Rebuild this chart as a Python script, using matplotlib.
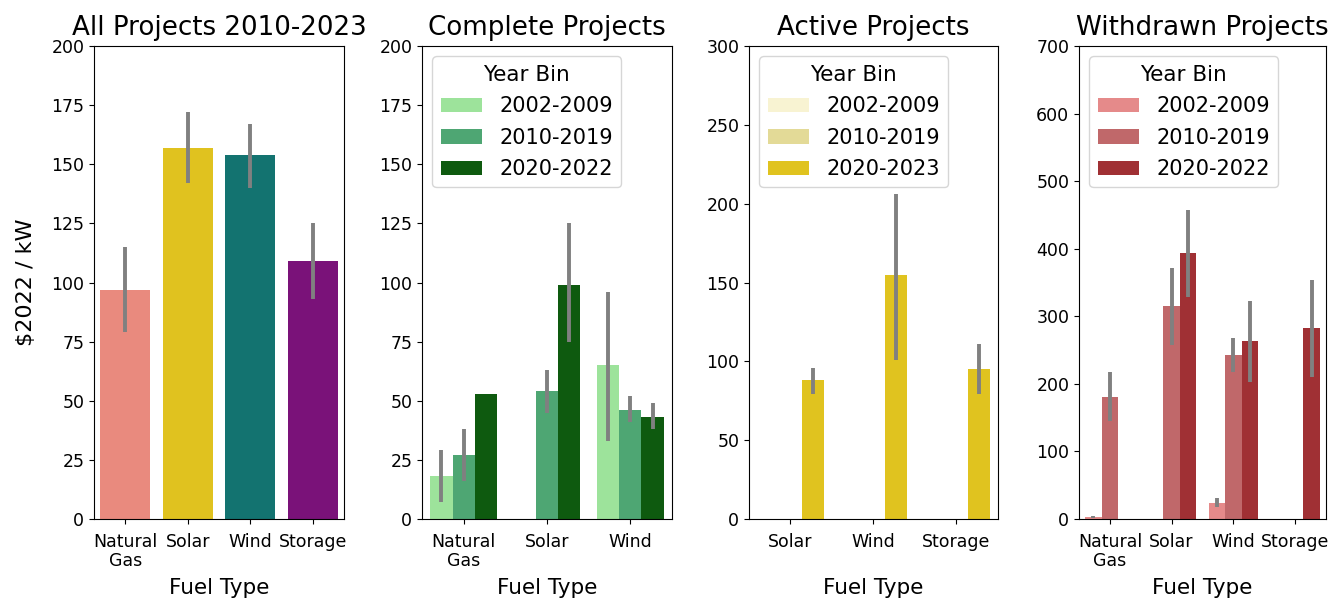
import matplotlib
matplotlib.use("Agg")
import matplotlib.pyplot as plt
import numpy as np

# ---------------- data ----------------
all_cats = ["Natural\nGas", "Solar", "Wind", "Storage"]
all_vals = [97, 157, 154, 109]
all_lo = [79, 142, 140, 93]
all_hi = [115, 172, 167, 125]
all_colors = ["#e98a7e", "#e0c21f", "#137370", "#7a1279"]

complete_cats = ["Natural\nGas", "Solar", "Wind"]
complete_bins = ["2002-2009", "2010-2019", "2020-2022"]
complete_vals = [[18, np.nan, 65], [27, 54, 46], [53, 99, 43]]
complete_lo = [[7, np.nan, 33], [16, 45, 41], [53, 75, 38]]
complete_hi = [[29, np.nan, 96], [38, 63, 52], [53, 125, 49]]
complete_colors = ["#9de39b", "#4ea673", "#0e5a0f"]

active_cats = ["Solar", "Wind", "Storage"]
active_bins = ["2002-2009", "2010-2019", "2020-2023"]
active_vals = [[np.nan, np.nan, np.nan], [np.nan, np.nan, np.nan], [88, 155, 95]]
active_lo = [[np.nan] * 3, [np.nan] * 3, [79, 101, 79]]
active_hi = [[np.nan] * 3, [np.nan] * 3, [96, 206, 111]]
active_colors = ["#f8f3d2", "#e3da97", "#e0c31f"]

withdrawn_cats = ["Natural\nGas", "Solar", "Wind", "Storage"]
withdrawn_bins = ["2002-2009", "2010-2019", "2020-2022"]
withdrawn_vals = [[3, np.nan, 24, np.nan], [181, 315, 243, np.nan], [np.nan, 393, 263, 283]]
withdrawn_lo = [[1, np.nan, 18, np.nan], [145, 258, 218, np.nan], [np.nan, 328, 203, 210]]
withdrawn_hi = [[5, np.nan, 31, np.nan], [217, 372, 268, np.nan], [np.nan, 457, 323, 354]]
withdrawn_colors = ["#e58a8a", "#c0686a", "#a03034"]

ERRC = "#808080"
TICK_FS = 12.5
LAB_FS = 15.5
TITLE_FS = 18.8
LEG_FS = 15

fig = plt.figure(figsize=(13.32, 6.0), dpi=100)
W, H = 1332, 600
top, bot = 46, 519
lefts = [94, 422, 749, 1079]
rights = [344, 672, 998, 1326]
axes = []
for l, r in zip(lefts, rights):
    axes.append(fig.add_axes([l / W, 1 - bot / H, (r - l) / W, (bot - top) / H]))


def style(ax, cats, title, ylim, step):
    ax.set_xticks(np.arange(len(cats)))
    ax.set_xticklabels(cats, fontsize=TICK_FS, linespacing=1.1)
    ax.tick_params(axis="x", pad=6.5)
    ax.set_xlim(-0.5, len(cats) - 0.5)
    ax.set_ylim(0, ylim)
    ax.set_yticks(np.arange(0, ylim + 1, step))
    ax.tick_params(axis="y", labelsize=TICK_FS)
    ax.set_title(title, fontsize=TITLE_FS, pad=8)
    ax.set_xlabel("Fuel Type", fontsize=LAB_FS)
    ax.xaxis.set_label_coords(0.5, -0.124)


def hue_bars(ax, bins, vals, lo, hi, colors):
    n = len(bins)
    w = 0.8 / n
    for j in range(n):
        x = np.arange(len(vals[j])) - 0.4 + w * (j + 0.5)
        v = np.array(vals[j], dtype=float)
        ax.bar(x, np.nan_to_num(v), width=w, color=colors[j], label=bins[j],
               edgecolor="none")
        for xi, vi, l, h in zip(x, v, lo[j], hi[j]):
            if not np.isnan(vi) and h > l:
                ax.plot([xi, xi], [l, h], color=ERRC, lw=2.8, solid_capstyle="butt")
    ax.legend(title="Year Bin", loc="upper left", fontsize=LEG_FS,
              title_fontsize=LEG_FS + 0.5, handlelength=2.0,
              borderaxespad=0.5, labelspacing=0.55)


# Panel 1
ax = axes[0]
x = np.arange(len(all_cats))
ax.bar(x, all_vals, width=0.8, color=all_colors, edgecolor="none")
for xi, l, h in zip(x, all_lo, all_hi):
    ax.plot([xi, xi], [l, h], color=ERRC, lw=2.8, solid_capstyle="butt")
style(ax, all_cats, "All Projects 2010-2023", 200, 25)
ax.set_ylabel("\\$2022 / kW", fontsize=LAB_FS + 0.5, labelpad=11)

# Panel 2
ax = axes[1]
hue_bars(ax, complete_bins, complete_vals, complete_lo, complete_hi, complete_colors)
style(ax, complete_cats, "Complete Projects", 200, 25)

# Panel 3
ax = axes[2]
hue_bars(ax, active_bins, active_vals, active_lo, active_hi, active_colors)
style(ax, active_cats, "Active Projects", 300, 50)

# Panel 4
ax = axes[3]
hue_bars(ax, withdrawn_bins, withdrawn_vals, withdrawn_lo, withdrawn_hi, withdrawn_colors)
style(ax, withdrawn_cats, "Withdrawn Projects", 700, 100)

fig.savefig("out.png", dpi=100)
